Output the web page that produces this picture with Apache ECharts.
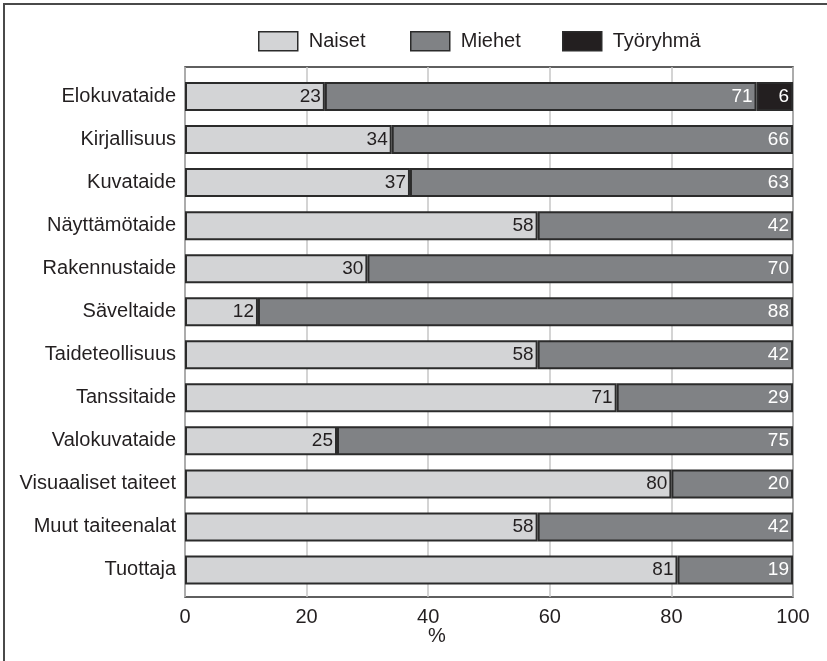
<!DOCTYPE html>
<html>
    <head>
        <meta charset="utf-8">
        <title>Taiteilijat sukupuolen mukaan</title>
        <script src="https://cdn.jsdelivr.net/npm/echarts@6/dist/echarts.min.js"></script>
        <style>
            html, body { margin: 0; padding: 0; background: #fff; }
            #chart1 { width: 827px; height: 661px; }
        </style>
    </head>
    <body>
        <div id="chart1"></div>
    </body>

    <script type="text/javascript">
        // data
        var categories = ['Elokuvataide', 'Kirjallisuus', 'Kuvataide', 'Näyttämötaide', 'Rakennustaide', 'Säveltaide',
            'Taideteollisuus', 'Tanssitaide', 'Valokuvataide', 'Visuaaliset taiteet', 'Muut taiteenalat', 'Tuottaja'];
        var naiset = [23, 34, 37, 58, 30, 12, 58, 71, 25, 80, 58, 81];
        var miehet = [71, 66, 63, 42, 70, 88, 42, 29, 75, 20, 42, 19];
        var tyoryhma = [6, 0, 0, 0, 0, 0, 0, 0, 0, 0, 0, 0];
        var xTicks = [0, 20, 40, 60, 80, 100];

        var FONT = "'Liberation Sans Narrow', 'Arial Narrow', 'Liberation Sans', Arial, sans-serif";
        var EDGE = '#2b2b2b';

        var myChart1 = echarts.init(document.getElementById('chart1'));

        function legendFor(name, left) {
            return {
                data: [name],
                left: left,
                top: 26,
                itemWidth: 39,
                itemHeight: 19,
                icon: 'rect',
                itemStyle: { borderColor: EDGE, borderWidth: 1.5 },
                textStyle: { fontFamily: FONT, fontSize: 20, color: '#231f20', padding: [0, 0, 0, 6] }
            };
        }

        function lbl(color) {
            return {
                show: true,
                position: 'insideRight',
                distance: 4,
                color: color,
                fontFamily: FONT,
                fontSize: 19,
                formatter: function (p) { return p.value ? p.value : ''; }
            };
        }

        myChart1.setOption({
            animation: false,
            backgroundColor: '#fff',
            legend: [legendFor('Naiset', 253), legendFor('Miehet', 405), legendFor('Työryhmä', 557)],
            grid: [
                { left: 185, right: 34, top: 67, bottom: 64, outerBoundsMode: 'none', containLabel: false,
                  show: true, borderColor: EDGE, borderWidth: 1.5, backgroundColor: 'transparent' },
                { left: 185, right: 34, top: 75, bottom: 69.5, outerBoundsMode: 'none', containLabel: false }
            ],
            xAxis: [
                {
                    gridIndex: 0, type: 'value', min: 0, max: 100, interval: 20,
                    axisLine: { show: false }, axisTick: { show: false },
                    splitLine: { show: true, lineStyle: { color: '#c6c6c6', width: 1.5 } },
                    axisLabel: {
                        margin: 10, fontFamily: FONT, fontSize: 20, color: '#231f20',
                        formatter: function (v) { return xTicks.indexOf(v) >= 0 ? String(v) : ''; }
                    }
                },
                { gridIndex: 1, type: 'value', min: 0, max: 100, show: false }
            ],
            yAxis: [
                { gridIndex: 0, type: 'value', show: false, splitLine: { show: false } },
                {
                    gridIndex: 1, type: 'category', inverse: true, data: categories,
                    axisLine: { show: false }, axisTick: { show: false },
                    axisLabel: { margin: 9, fontFamily: FONT, fontSize: 20, color: '#231f20' }
                }
            ],
            graphic: [
                {
                    type: 'polyline',
                    shape: { points: [[4, 661], [4, 4], [827, 4]] },
                    style: { stroke: '#4a4a4a', lineWidth: 2, fill: null }
                },
                {
                    type: 'text', x: 437, y: 636,
                    style: { text: '%', fontFamily: FONT, fontSize: 20, fill: '#231f20', align: 'center', verticalAlign: 'middle' }
                }
            ],
            series: [
                {
                    name: 'Naiset', type: 'bar', stack: 'all', xAxisIndex: 1, yAxisIndex: 1,
                    barWidth: 29, data: naiset,
                    itemStyle: { color: '#d3d4d6', borderColor: EDGE, borderWidth: 2 },
                    label: lbl('#231f20')
                },
                {
                    name: 'Miehet', type: 'bar', stack: 'all', xAxisIndex: 1, yAxisIndex: 1,
                    barWidth: 29, data: miehet,
                    itemStyle: { color: '#808285', borderColor: EDGE, borderWidth: 2 },
                    label: lbl('#ffffff')
                },
                {
                    name: 'Työryhmä', type: 'bar', stack: 'all', xAxisIndex: 1, yAxisIndex: 1,
                    barWidth: 29, data: tyoryhma.map(function (v) { return v ? v : '-'; }),
                    itemStyle: { color: '#231f20', borderColor: EDGE, borderWidth: 2 },
                    label: lbl('#ffffff')
                }
            ]
        });
    </script>
</html>
